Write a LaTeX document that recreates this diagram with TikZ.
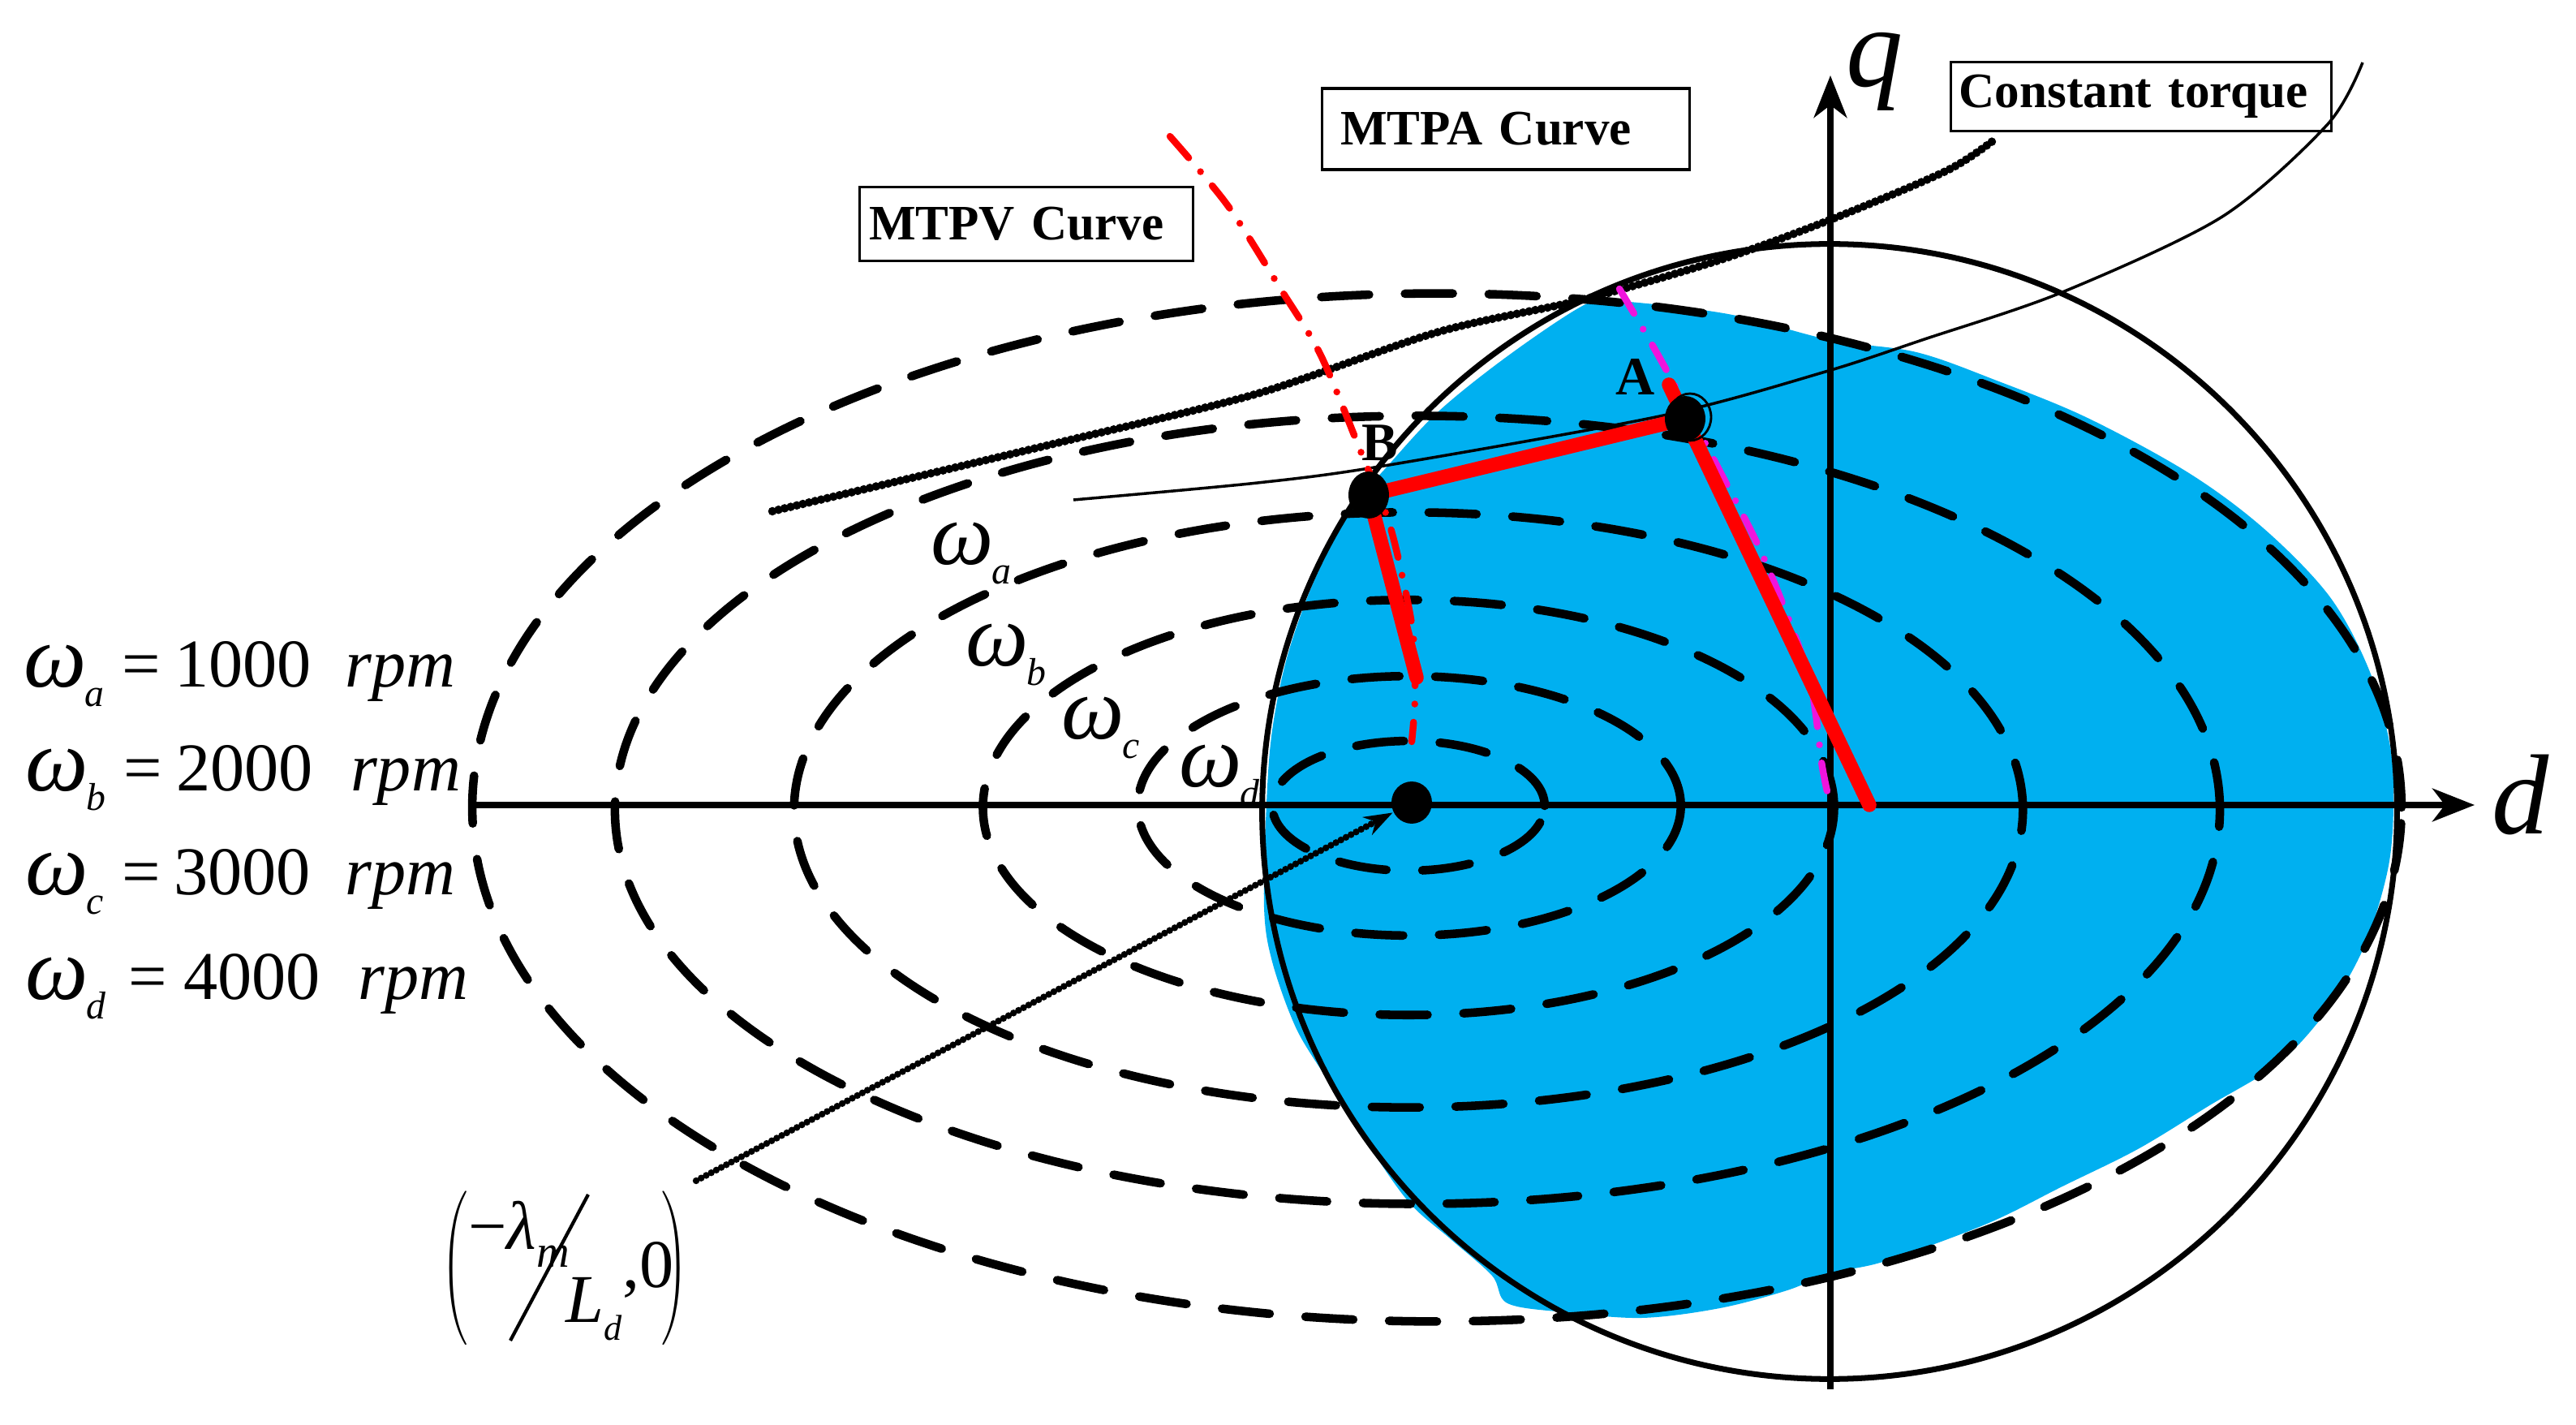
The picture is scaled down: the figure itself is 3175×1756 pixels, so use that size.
\documentclass[tikz,border=0pt]{standalone}
\usepackage{fontspec}
\setmainfont{Liberation Serif}
\usepackage{graphicx}
\usetikzlibrary{arrows.meta,shapes.geometric}
\definecolor{fillblue}{RGB}{0,176,240}
\definecolor{mtpamag}{RGB}{240,20,220}
\newcommand{\eqf}{\fontsize{12}{14}\selectfont}
\newcommand{\subf}{\fontsize{6.8}{8}\selectfont}
\newcommand{\om}[1]{\scalebox{1.3}{\textit{ω}}\kern-0.03em\raisebox{-0.28em}{\subf\textit{#1}}}
\begin{document}
\begin{tikzpicture}[x=0.005cm,y=-0.005cm,
  ell/.style={line width=1.5pt, dash pattern=on 8.4pt off 6.3pt, line cap=round},
  axisline/.style={line width=1pt, -{Stealth[length=7.4pt,width=5.8pt,inset=2.2pt]}},
  rim/.style={line width=1pt},
  redline/.style={line width=2.5pt, red, line cap=round},
  dashdot/.style={line width=1.2pt, dash pattern=on 5pt off 3.2pt on 0pt off 3.2pt, line cap=round},
  beads/.style={line width=1.5pt, dash pattern=on 0pt off 1.1pt, line cap=round},
  thincurve/.style={line width=0.5pt},
  dot/.style={ellipse, fill=black, inner sep=0pt},
  lbox/.style={draw, line width=0.45pt, align=left, inner ysep=0pt, font=\fontsize{8.7}{10}\selectfont\bfseries},
  eq/.style={anchor=base west, inner sep=0pt, font=\eqf},
  ptlbl/.style={anchor=base west, inner sep=0pt, font=\fontsize{9.5}{11}\selectfont\bfseries},
  axlbl/.style={anchor=base west, inner sep=0pt, font=\fontsize{20}{22}\selectfont\itshape},
]
\useasboundingbox (0,0) rectangle (3175,1756);

% operating region
\fill[fillblue] plot[smooth cycle, tension=0.55] coordinates {
 (1956,374) (1996,371) (2130,387) (2256,419) (2362,434) (2461,469) (2573,515)
 (2698,583) (2791,652) (2872,736) (2921,828) (2946,920) (2950,996) (2943,1072)
 (2915,1164) (2872,1240) (2810,1309) (2722,1363) (2635,1416) (2542,1462)
 (2449,1508) (2324,1554) (2256,1569) (2203,1590) (2120,1612) (2024,1624)
 (1928,1617) (1858,1606) (1839,1572) (1788,1527) (1737,1482) (1686,1410)
 (1635,1329) (1597,1266) (1568,1185) (1558,1118) (1561,990) (1568,900)
 (1586,811) (1617,722) (1657,641) (1687,600) (1706,579) (1773,507) (1862,436)};

% voltage limit ellipses
\draw[ell] (1771,995) ellipse [x radius=5.95cm, y radius=3.17cm];
\draw[ell] (1747,998) ellipse [x radius=4.95cm, y radius=2.43cm];
\draw[ell] (1736,998) ellipse [x radius=3.79cm, y radius=1.835cm];
\draw[ell] (1736,995) ellipse [x radius=2.625cm, y radius=1.28cm];
\draw[ell] (1737,993) ellipse [x radius=1.675cm, y radius=0.80cm];
\draw[ell] (1736,993) ellipse [x radius=0.84cm, y radius=0.40cm];

% current limit circle
\draw[rim] (2255,1000) circle [radius=3.5cm];

% axes
\coordinate (dstart) at (577,992);
\coordinate (dend) at (3050,992);
\coordinate (qstart) at (2256,1712);
\coordinate (qend) at (2256,93);
\draw[axisline] (dstart) -- (dend);
\draw[axisline] (qstart) -- (qend);
\node[axlbl] (dlbl) at (3070,1028) {d};
\node[axlbl] (qlbl) at (2274,107) {q};

% constant torque curves
\draw[beads] plot[smooth] coordinates {(952,630) (1315,543) (1550,485) (1773,409) (1952,369) (2121,320) (2258,270) (2400,210) (2461,170)};
\draw[thincurve] plot[smooth] coordinates {(1323,616) (1550,595) (1706,574) (2050,512) (2250,458) (2372,418) (2542,360) (2739,267) (2869,153) (2912,77)};

% MTPV and MTPA curves
\draw[dashdot, red] plot[smooth] coordinates {(1442,168) (1513,253) (1579,357) (1628,438) (1679,561) (1711,641) (1729,713) (1742,784) (1744,860) (1740,914)};
\draw[dashdot, mtpamag] plot[smooth] coordinates {(1996,356) (2050,449) (2121,583) (2175,690) (2229,833) (2246,945) (2256,992)};

% trajectory
\coordinate (Apos) at (2077,516);
\coordinate (Bpos) at (1687,610);
\coordinate (Atop) at (2057,474);
\coordinate (Abot) at (2304,992);
\coordinate (Bbot) at (1746,835);
\draw[redline] (Bpos) -- (Apos);
\draw[redline] (Bpos) -- (Bbot);
\draw[redline] (Atop) -- (Abot);

\node[dot, minimum width=0.25cm, minimum height=0.29cm] (B) at (Bpos) {};
\node[dot, minimum width=0.25cm, minimum height=0.28cm] (A) at (Apos) {};
\draw[line width=0.4pt] (2083,514) ellipse [x radius=0.13cm, y radius=0.145cm];
\node[dot, minimum width=0.25cm, minimum height=0.26cm] (O) at (1740,989) {};

\node[ptlbl] (Albl) at (1990,487) {A};
\node[ptlbl] (Blbl) at (1677,568) {B};

% boxes
\node[lbox, text width=1.94cm, inner xsep=0.06cm, minimum height=0.455cm] (mtpv) at (1265,276) {MTPV Curve};
\node[lbox, text width=2.04cm, inner xsep=0.115cm, minimum height=0.5cm] (mtpa) at (1856,159) {MTPA Curve};
\node[lbox, text width=2.245cm, inner xsep=0.05cm, minimum height=0.425cm] (ctq) at (2639,119) {Constant torque};

% speed labels
\node[eq] (la) at (1146,696) {\om{a}};
\node[eq] (lb) at (1189,821) {\om{b}};
\node[eq] (lc) at (1307,911) {\om{c}};
\node[eq] (ld) at (1452,970) {\om{d}};

\node[eq] (wa) at (28,847) {\om{a}\hspace{0.27em}=\hspace{0.2em}1000\hspace{0.5em}\textit{rpm}};
\node[eq] (wb) at (30,975) {\om{b}\hspace{0.27em}=\hspace{0.2em}2000\hspace{0.55em}\textit{rpm}};
\node[eq] (wc) at (30,1103) {\om{c}\hspace{0.27em}=\hspace{0.2em}3000\hspace{0.5em}\textit{rpm}};
\node[eq] (wd) at (30,1232) {\om{d}\hspace{0.33em}=\hspace{0.25em}4000\hspace{0.55em}\textit{rpm}};

% centre label
\node[inner sep=0pt] (lpar) at (561,1563) {\resizebox*{4.6pt}{27pt}{$\Biggl($}};
\node[inner sep=0pt] (rpar) at (832,1563) {\resizebox*{4.6pt}{27pt}{$\Biggr)$}};
\node[eq] (lam) at (576,1540) {−\textit{λ}\raisebox{-0.25em}{\fontsize{8}{9}\selectfont\textit{m}}};
\coordinate (slt) at (725,1472);
\coordinate (slb) at (629,1652);
\draw[line width=0.6pt] (slt) -- (slb);
\node[eq] (Ld) at (696,1630) {\textit{L}\raisebox{-0.25em}{\fontsize{6.3}{7}\selectfont\textit{d}}};
\node[eq] (zero) at (766,1587) {,0};

\coordinate (arrstart) at (858,1455);
\draw[beads, line width=1.2pt, dash pattern=on 0pt off 1pt, -{Stealth[length=5pt,width=3.5pt]}] (arrstart) -- (O);
\end{tikzpicture}
\end{document}
